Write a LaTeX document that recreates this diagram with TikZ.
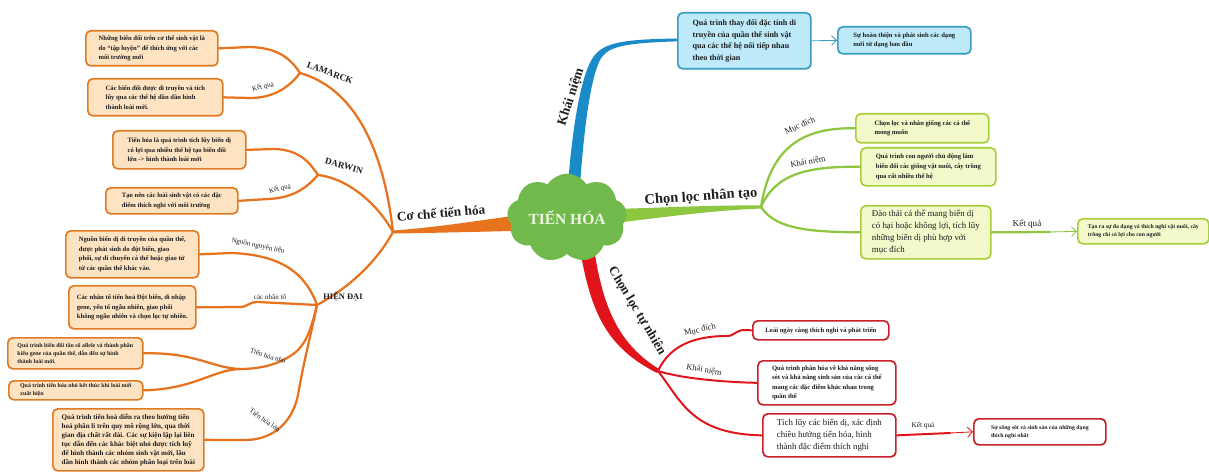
\documentclass[tikz,border=0pt]{standalone}
\usepackage{fontspec}
\setmainfont{Liberation Serif}
\usetikzlibrary{shapes.symbols,arrows.meta}

\definecolor{orLine}{HTML}{E8731E}
\definecolor{orBorder}{HTML}{E07B24}
\definecolor{orFill}{HTML}{FDE3C2}
\definecolor{blLine}{HTML}{1A8BC9}
\definecolor{blBorder}{HTML}{3A9CC0}
\definecolor{blFill}{HTML}{BDE9F8}
\definecolor{grLine}{HTML}{8DC63F}
\definecolor{grBorder}{HTML}{A8CF38}
\definecolor{grFill}{HTML}{F4F9CC}
\definecolor{rdLine}{HTML}{E2141B}
\definecolor{rdBorder}{HTML}{C9202A}
\definecolor{cloudG}{HTML}{72B94C}
\definecolor{cloudT}{HTML}{EEF6E4}
\definecolor{ink}{HTML}{1E1E1E}

% font sizes used in the boxes and labels
\newcommand\ftTiny{\fontsize{4.1}{5.4}\selectfont\bfseries}
\newcommand\ftSmall{\fontsize{4.2}{5.8}\selectfont\bfseries}
\newcommand\ftBox{\fontsize{4.7}{6.8}\selectfont\bfseries}
\newcommand\ftMid{\fontsize{5.0}{6.4}\selectfont\bfseries}
\newcommand\ftBig{\fontsize{5.75}{8.3}\selectfont\bfseries}
\newcommand\ftBigR{\fontsize{6.3}{8.6}\selectfont}
\newcommand\ftLab{\fontsize{5}{6}\selectfont}
\newcommand\ftSub{\fontsize{6.5}{7}\selectfont\bfseries}
\newcommand\ftMain{\fontsize{9.5}{10}\selectfont\bfseries}

\tikzset{
  sz/.code 2 args={%
    \pgfmathsetmacro\bxw{#1*0.025}%
    \pgfmathsetmacro\bxh{#2*0.025}%
    \edef\bxtmp{\noexpand\pgfkeysalso{minimum width=\bxw cm, minimum height=\bxh cm}}\bxtmp},
  box/.style={draw, rounded corners=3.5pt, line width=1.2pt, align=left,
    anchor=north west, inner xsep=0.12cm, inner ysep=1pt, text=ink},
  obox/.style={box, draw=orBorder, fill=orFill},
  bbox/.style={box, draw=blBorder, fill=blFill},
  gbox/.style={box, draw=grBorder, fill=grFill},
  rbox/.style={box, draw=rdBorder, fill=white},
  oline/.style={draw=orLine, line width=1.6pt, line cap=round},
  gline/.style={draw=grLine, line width=1.6pt, line cap=round},
  rline/.style={draw=rdLine, line width=1.4pt, line cap=round},
  thinarrow/.style={line width=0.6pt, -{Straight Barb[length=3.5pt,width=7pt]}},
  lab/.style={text=ink, inner sep=0pt, font=\ftLab},
  sublab/.style={text=ink, inner sep=0pt, font=\ftSub},
  mainlab/.style={text=ink, inner sep=0pt, font=\ftMain},
}

\begin{document}
\begin{tikzpicture}[x=0.025cm,y=-0.025cm]
\path[use as bounding box, fill=white] (0,0) rectangle (1209,472);

% ---------- junction points ----------
\coordinate (cj) at (393,232);
\coordinate (lj) at (300,73);
\coordinate (dj) at (318,175);
\coordinate (hj) at (317,305);
\coordinate (tnj) at (240,369);
\coordinate (gj) at (761,207);
\coordinate (rj) at (658,371);
\coordinate (gk) at (1050,232);
\coordinate (rk) at (950,433);

% ---------- tapered main branches ----------
\fill[orLine] (512,216) .. controls (470,222) and (430,228) .. (393,230.5)
  -- (393,233.5) .. controls (430,233) and (470,232) .. (512,231) -- cycle;
\fill[grLine] (615,209) .. controls (680,207) and (720,205) .. (762,205.5)
  -- (762,208.5) .. controls (720,210) and (680,215) .. (615,223) -- cycle;
\fill[blLine] (568,185) .. controls (573,120) and (582,72) .. (594,56)
  .. controls (603,45) and (615,39) .. (677,38.6)
  -- (677,41.4) .. controls (618,43) and (607,48) .. (600,60)
  .. controls (590,80) and (584,130) .. (580,185) -- cycle;
\fill[rdLine] (581,255) .. controls (592,315) and (608,348) .. (657,373)
  -- (659,369) .. controls (620,345) and (604,310) .. (595,255) -- cycle;

% ---------- centre ----------
\node[cloud, cloud puffs=9, cloud puff arc=115, aspect=1.5, fill=cloudG,
  minimum width=3.0cm, minimum height=2.05cm, inner sep=0pt,
  text=cloudT, font=\fontsize{11}{12}\selectfont\bfseries] (root) at (567,218) {TIẾN HÓA};

% ---------- main branch labels ----------
\node[mainlab, rotate=72] (kLab) at (571,97) {Khái niệm};
\node[mainlab, rotate=4, font=\fontsize{10.3}{11}\selectfont\bfseries] (nLab) at (701,197) {Chọn lọc nhân tạo};
\node[mainlab, rotate=-59, font=\fontsize{9.3}{10}\selectfont\bfseries] (tLab) at (637,311) {Chọn lọc tự nhiên};
\node[mainlab, rotate=5] (cLab) at (441,213) {Cơ chế tiến hóa};

% ---------- Khái niệm (blue) ----------
\node[bbox, sz={133}{56}, font=\ftBig] (b1) at (677,12)
  {Quá trình thay đổi đặc tính di\\truyền của quần thể sinh vật\\qua các thế hệ nối tiếp nhau\\theo thời gian};
\node[bbox, sz={133}{27}, font=\ftBox] (b2) at (837,26)
  {Sự hoàn thiện và phát sinh các dạng\\mới từ dạng ban đầu};
\draw[blBorder, thinarrow] (b1.east) -- (b2.west);

% ---------- Chọn lọc nhân tạo (green) ----------
\node[gbox, sz={133}{29}, font=\ftBox] (g1) at (855,113)
  {Chọn lọc và nhân giống các cá thể\\mong muốn};
\node[gbox, sz={135}{38}, font=\ftBox] (g2) at (860,147)
  {Quá trình con người chủ động làm\\biến đổi các giống vật nuôi, cây trồng\\qua rất nhiều thế hệ};
\node[gbox, sz={130}{53}, font=\ftBigR] (g3) at (860,205)
  {Đào thải cá thể mang biến dị\\có hại hoặc không lợi, tích lũy\\những biến dị phù hợp với\\mục đích};
\node[gbox, sz={131}{25}, font=\ftTiny] (g4) at (1077,218)
  {Tạo ra sự đa dạng và thích nghi vật nuôi, cây\\trồng chỉ có lợi cho con người};
\path[gline] (gj) .. controls (770,150) and (800,127) .. (g1.west);
\path[gline] (gj) .. controls (775,175) and (805,166) .. (g2.west);
\path[gline] (gj) .. controls (775,228) and (805,232) .. (g3.west);
\path[gline] (g3.east) -- (gk);
\draw[grLine, thinarrow] (gk) -- (g4.west);
\node[sublab, font=\fontsize{6}{7}\selectfont, rotate=23] (gL1) at (800,126) {Mục đích};
\node[sublab, font=\fontsize{6}{7}\selectfont, rotate=11] (gL2) at (808,162) {Khái niệm};
\node[sublab, font=\fontsize{6.5}{7}\selectfont] (gL3) at (1027,224) {Kết quả};

% ---------- Chọn lọc tự nhiên (red) ----------
\node[rbox, sz={136}{19}, font=\ftBox] (r1) at (752,320)
  {Loài ngày càng thích nghi và phát triển};
\node[rbox, sz={138}{44}, font=\ftBox] (r2) at (757,360)
  {Quá trình phân hóa về khả năng sống\\sót và khả năng sinh sản của các cá thể\\mang các đặc điểm khác nhau trong\\quần thể};
\node[rbox, sz={133}{43}, font=\ftBigR] (r3) at (762,413)
  {Tích lũy các biến dị, xác định\\chiều hướng tiến hóa, hình\\thành đặc điểm thích nghi};
\node[rbox, sz={132}{26}, font=\ftTiny] (r4) at (973,418)
  {Sự sống sót và sinh sản của những dạng\\thích nghi nhất};
\path[rline] (rj) .. controls (670,345) and (695,336) .. (727,336)
  .. controls (735,336) and (735,330) .. (745,330) -- (r1.west);
\path[rline] (rj) .. controls (680,378) and (720,382) .. (r2.west);
\path[rline] (rj) .. controls (682,402) and (692,434) .. (r3.west);
\path[rline] (r3.east) -- (rk);
\draw[rdLine, thinarrow] (rk) -- (r4.west);
\node[sublab, font=\fontsize{6}{7}\selectfont, rotate=13] (rL1) at (700,330) {Mục đích};
\node[sublab, font=\fontsize{6}{7}\selectfont, rotate=-10] (rL2) at (704,370) {Khái niệm};
\node[sublab, font=\fontsize{5.2}{6}\selectfont] (rL3) at (923,426) {Kết quả};

% ---------- Cơ chế tiến hóa (orange) ----------
\path[oline] (cj) .. controls (385,160) and (360,90) .. (lj);
\path[oline] (cj) .. controls (375,200) and (345,178) .. (dj);
\path[oline] (cj) .. controls (375,265) and (345,290) .. (hj);

% LAMARCK
\node[obox, sz={132}{35}, font=\ftBox] (l1) at (85,30)
  {Những biến đổi trên cơ thể sinh vật là\\do “tập luyện” để thích ứng với các\\môi trường mới};
\node[obox, sz={135}{37}, font=\ftBox] (l2) at (87,78)
  {Các biến đổi được di truyền và tích\\lũy qua các thế hệ dần dần hình\\thành loài mới.};
\path[oline] (l1.east) -- (250,47) .. controls (278,48) and (290,58) .. (lj);
\path[oline] (l2.east) -- (250,98) .. controls (275,98) and (290,86) .. (lj);
\node[sublab, rotate=-20] (lamL) at (330,73) {LAMARCK};
\node[lab, rotate=12] (lamK) at (263,87) {Kết quả};

% DARWIN
\node[obox, sz={133}{38}, font=\ftBox] (d1) at (112,130)
  {Tiến hóa là quá trình tích lũy biến dị\\có lợi qua nhiều thế hệ tạo biến đổi\\lớn -> hình thành loài mới};
\node[obox, sz={132}{26}, font=\ftBox] (d2) at (105,187)
  {Tạo nên các loài sinh vật có các đặc\\điểm thích nghi với môi trường};
\path[oline] (d1.east) -- (275,149) .. controls (300,150) and (310,163) .. (dj);
\path[oline] (d2.east) -- (268,199) .. controls (295,198) and (308,186) .. (dj);
\node[sublab, rotate=-15] (darL) at (344,166) {DARWIN};
\node[lab, rotate=12] (darK) at (280,189) {Kết quả};

% HIỆN ĐẠI
\node[obox, sz={133}{47}, font=\ftBox] (n1) at (65,230)
  {Nguồn biến dị di truyền của quần thể,\\được phát sinh do đột biến, giao\\phối, sự di chuyển cá thể hoặc giao tử\\từ các quần thể khác vào.};
\node[obox, sz={127}{43}, font=\ftBox] (n2) at (68,285)
  {Các nhân tố tiến hoá Đột biến, di nhập\\gene, yếu tố ngẫu nhiên, giao phối\\không ngẫu nhiên và chọn lọc tự nhiên.};
\node[obox, sz={135}{31}, font=\ftSmall] (n3) at (7,337)
  {Quá trình biến đổi tần số allele và thành phần\\kiểu gene của quần thể, dẫn đến sự hình\\thành loài mới.};
\node[obox, sz={134}{19}, font=\ftSmall] (n4) at (8,380)
  {Quá trình tiến hóa nhỏ kết thúc khi loài mới\\xuất hiện};
\node[obox, sz={151}{62}, font=\ftMid] (n5) at (52,408)
  {Quá trình tiến hoá diễn ra theo hướng tiến\\hoá phân li trên quy mô rộng lớn, qua thời\\gian địa chất rất dài. Các sự kiện lặp lại liên\\tục dẫn đến các khác biệt nhỏ được tích luỹ\\để hình thành các nhóm sinh vật mới, lâu\\dần hình thành các nhóm phân loại trên loài};
\path[oline] (n1.east) -- (232,253) .. controls (280,255) and (305,272) .. (hj);
\path[oline] (n2.east) -- (240,307) .. controls (248,307) and (248,302) .. (258,302) -- (hj);
\path[oline] (hj) .. controls (312,325) and (308,340) .. (298,350)
  .. controls (285,362) and (265,369) .. (tnj);
\path[oline] (n3.east) .. controls (195,352) and (212,368) .. (tnj);
\path[oline] (n4.east) .. controls (195,389) and (212,370) .. (tnj);
\path[oline] (n5.east) -- (245,440) .. controls (275,440) and (293,420) .. (298,395)
  .. controls (304,360) and (312,330) .. (hj);
\node[sublab, font=\fontsize{6}{7}\selectfont\bfseries] (hdL) at (343,297) {HIỆN ĐẠI};
\node[lab, rotate=-12] (hdA) at (258,246) {Nguồn nguyên liệu};
\node[lab] (hdB) at (270,297) {các nhân tố};
\node[lab, rotate=-18] (hdC) at (268,356) {Tiến hóa nhỏ};
\node[lab, rotate=-35] (hdD) at (265,420) {Tiến hóa lớn};

\end{tikzpicture}
\end{document}
